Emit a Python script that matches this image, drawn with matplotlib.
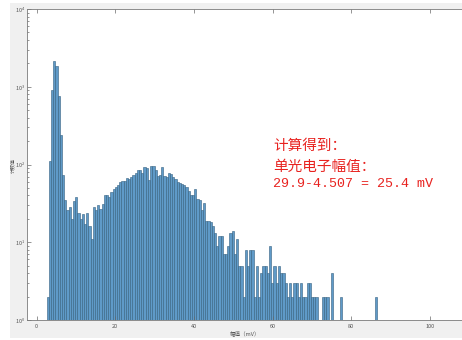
import matplotlib.pyplot as plt
from matplotlib.patches import Rectangle
from matplotlib.ticker import LogLocator, NullFormatter
import numpy as np

plt.rcParams['font.family'] = ['Noto Sans CJK SC', 'DejaVu Sans']

# pulse amplitude histogram, fixed-width bins starting at 2.5 mV
bin_start = 2.5
bin_width = 0.5607
counts = [
    2, 110, 910, 2150, 1860, 770, 240, 74, 35, 26,
    28, 20, 34, 38, 24, 20, 23, 17, 24, 16,
    11, 28, 26, 30, 27, 31, 41, 40, 38, 44,
    48, 51, 54, 59, 62, 62, 68, 66, 70, 74,
    77, 86, 84, 78, 92, 90, 64, 96, 97, 86,
    72, 74, 92, 72, 70, 77, 76, 70, 66, 59,
    57, 56, 54, 51, 45, 41, 40, 49, 36, 35,
    26, 32, 19, 19, 18, 16, 13, 9, 12, 12,
    7, 7, 9, 13, 14, 7, 11, 5, 5, 2,
    8, 5, 8, 8, 2, 5, 2, 4, 5, 5,
    4, 9, 3, 5, 3, 5, 4, 4, 3, 2,
    3, 2, 3, 3, 2, 3, 2, 2, 3, 3,
    2, 2, 2, 0, 0, 2, 2, 2, 0, 4,
    0, 0, 0, 2, 0, 0, 0, 0, 0, 0,
    0, 0, 0, 0, 0, 0, 0, 0, 0, 2,
]

x_ticks = [0, 20, 40, 60, 80, 100]
y_ticks = [1e0, 1e1, 1e2, 1e3, 1e4]

note_lines = ['计算得到：', '单光电子幅值：']
note_formula = '29.9-4.507 = 25.4 mV'

W, H = 462, 340
fig = plt.figure(figsize=(W / 100, H / 100), dpi=100)
fig.patch.set_facecolor('white')
# grey window background behind the axes
fig.patches.append(Rectangle((10 / W, 2 / H), 1, 335 / H, transform=fig.transFigure,
                             facecolor='#f0f0f0', edgecolor='none', zorder=-10))

ax = fig.add_axes([27 / W, 20 / H, 442 / W, 311 / H])
ax.set_facecolor('white')

counts = np.array(counts)
centers = bin_start + (np.arange(len(counts)) + 0.5) * bin_width
keep = counts > 0
ax.bar(centers[keep], counts[keep], width=bin_width, color='#5f9ac8',
       edgecolor='#34607f', linewidth=0.4)

ax.set_yscale('log')
ax.set_xlim(-2.47, 110)
ax.set_ylim(1, 1e4)

ax.set_xticks(x_ticks)
ax.set_yticks(y_ticks)
ax.yaxis.set_minor_locator(LogLocator(base=10, subs=np.arange(2, 10)))
ax.yaxis.set_minor_formatter(NullFormatter())
ax.tick_params(which='both', direction='in', top=True, right=True,
               colors='#6a6a6a', width=0.5, labelsize=4, labelcolor='#555555')
ax.tick_params(which='major', length=3)
ax.tick_params(axis='x', which='major', pad=3)
ax.tick_params(axis='y', which='major', pad=1.5)
ax.tick_params(which='minor', length=1.5)
for s in ax.spines.values():
    s.set_color('#7a7a7a')
    s.set_linewidth(0.6)

fig.text(13 / W, 1 - 165 / H, '计数值', rotation=90, fontsize=3.6, color='#555555',
         ha='center', va='center')
fig.text(245 / W, 1 - 333 / H, '幅值（mV）', fontsize=4, color='#555555',
         ha='center', va='center')

red = '#e8221f'
fig.text(273 / W, 1 - 150 / H, note_lines[0], fontsize=10.5, color=red, va='baseline')
fig.text(273 / W, 1 - 171 / H, note_lines[1], fontsize=10.5, color=red, va='baseline')
fig.text(273 / W, 1 - 187 / H, note_formula, fontsize=9.6, color=red, va='baseline',
         family=['Liberation Mono', 'DejaVu Sans Mono'])

fig.savefig('out.png', dpi=100)
